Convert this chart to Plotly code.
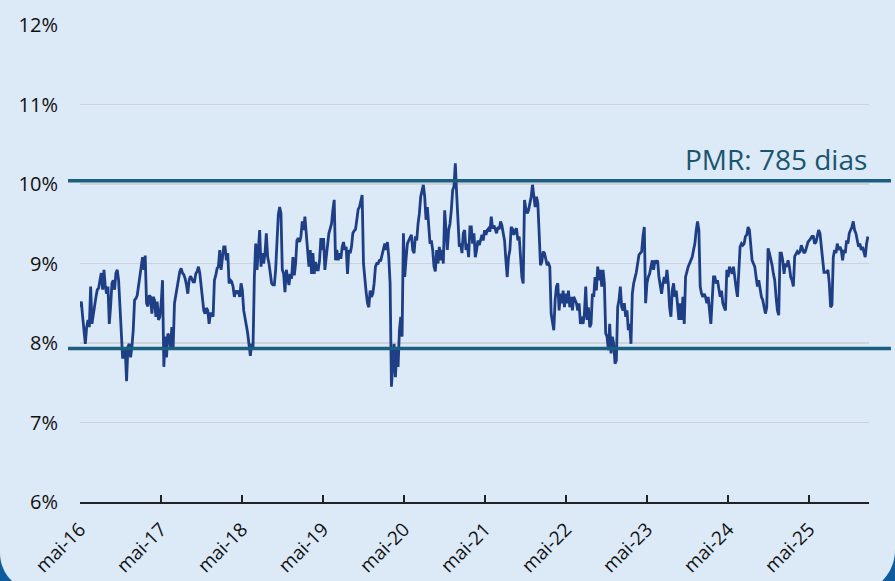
import math
import pandas as pd
import plotly.graph_objects as go

# ---------------- data ----------------
start_date = "2016-05-01"
step = "6D"

seg_2016_2017 = [
    8.45, 8.52, 8.33, 8.16, 7.99, 8.20, 8.29, 8.20, 8.71, 8.24, 8.37, 8.46, 8.58, 8.67, 8.69, 8.79,
    8.88, 8.67, 8.92, 8.71, 8.62, 8.71, 8.24, 8.46, 8.75, 8.79, 8.67, 8.88, 8.92, 8.79, 8.46, 8.16,
    7.82, 7.82, 7.91, 7.52, 7.95, 7.99, 7.82, 7.95, 8.16, 8.54, 8.56, 8.60, 8.71, 8.79, 8.96, 9.08,
    8.92, 9.10, 8.50, 8.46, 8.60, 8.58, 8.37, 8.58, 8.54, 8.33, 8.52, 8.29, 8.33, 8.50, 8.79, 7.70,
    8.08, 7.82, 8.12, 8.08, 7.95, 8.20, 7.95, 8.50, 8.60, 8.67, 8.81, 8.90, 8.94, 8.88, 8.86, 8.81,
    8.73, 8.62, 8.79, 8.84, 8.81, 8.77, 8.77, 8.87, 8.90, 8.96, 8.88, 8.69, 8.58, 8.41, 8.37, 8.44,
]
seg_2018_2019 = [
    8.41, 8.24, 8.37, 8.37, 8.33, 8.79, 8.85, 8.94, 8.96, 9.17, 8.92, 9.08, 9.21, 9.21, 9.04, 9.13,
    8.75, 8.79, 8.77, 8.71, 8.58, 8.66, 8.62, 8.66, 8.58, 8.75, 8.66, 8.41, 8.33, 8.22, 8.12, 7.95,
    7.84, 7.99, 7.95, 8.83, 9.25, 8.92, 9.17, 9.42, 8.96, 9.13, 9.00, 9.13, 9.38, 9.08, 9.00, 8.87,
    8.75, 8.73, 8.73, 8.92, 9.38, 9.61, 9.71, 9.63, 8.92, 8.87, 8.64, 8.92, 8.83, 8.73, 8.87, 8.81,
    9.08, 8.85, 9.00, 9.29, 9.32, 9.27, 9.34, 9.53, 9.42, 9.59, 9.38, 9.17, 8.96, 9.17, 8.87, 9.13,
    8.87, 9.02, 8.92, 8.92, 9.04, 9.32, 9.17, 9.32, 8.92, 9.08, 9.25, 9.38, 9.44, 9.50, 9.67, 9.80,
    9.04, 9.17, 9.04,
]
seg_2019_2021 = [
    9.13, 9.06, 9.21, 9.27, 9.17, 9.21, 8.87, 9.17, 9.13, 9.21, 9.38, 9.41, 9.43, 9.55, 9.68, 9.71,
    9.80, 9.86, 9.00, 8.77, 8.64, 8.50, 8.45, 8.66, 8.58, 8.62, 8.75, 8.96, 9.00, 9.00, 9.04, 9.04,
    9.11, 9.21, 9.25, 9.17, 9.27, 9.08, 8.75, 7.45, 7.74, 7.99, 7.57, 7.91, 7.70, 8.16, 8.33, 8.08,
    9.38, 8.83, 9.06, 9.25, 9.29, 9.32, 9.36, 9.17, 9.13, 9.34, 9.29, 9.50, 9.63, 9.84, 9.92, 9.99,
    9.84, 9.55, 9.71, 9.50, 9.25, 9.29, 9.17, 8.96, 8.90, 9.17, 9.00, 9.21, 9.04, 9.17, 9.00, 9.67,
    9.38, 9.17, 9.42, 9.50, 9.67, 9.92, 9.97, 10.26, 9.88, 9.42, 9.21, 9.25, 9.13, 9.38, 9.42, 9.17,
    9.25, 9.08, 9.46,
]
seg_2021_2022 = [
    9.46, 9.25, 9.38, 9.08, 9.17, 9.29, 9.23, 9.32, 9.36, 9.29, 9.42, 9.36, 9.42, 9.44, 9.40, 9.59,
    9.44, 9.48, 9.44, 9.38, 9.46, 9.43, 9.53, 9.48, 9.38, 9.29, 9.04, 8.83, 9.08, 9.17, 9.46, 9.43,
    9.36, 9.42, 9.44, 9.29, 9.34, 9.04, 8.83, 8.75, 9.80, 9.69, 9.63, 9.67, 9.74, 9.84, 9.99, 9.80,
    9.71, 9.84, 9.76, 9.38, 8.98, 9.02, 9.15, 9.13, 9.04, 8.98, 9.00, 8.96, 8.37, 8.24, 8.16, 8.54,
    8.71, 8.75, 8.41, 8.62, 8.50, 8.66, 8.45, 8.62, 8.50, 8.66, 8.45, 8.58, 8.41, 8.58, 8.54, 8.50,
    8.41, 8.50, 8.24, 8.33, 8.24, 8.37, 8.71, 8.29, 8.45, 8.20, 8.24, 8.62, 8.58, 8.83, 8.66, 8.96,
    8.79, 8.92, 8.71,
]
seg_2022_2024 = [
    8.92, 8.75, 8.12, 8.08, 7.91, 8.24, 7.87, 8.08, 7.99, 7.74, 7.78, 8.45, 8.54, 8.71, 8.45, 8.41,
    8.50, 8.33, 8.41, 8.16, 8.24, 7.99, 8.62, 8.75, 8.81, 8.89, 9.00, 9.11, 9.13, 9.15, 9.34, 9.46,
    8.50, 8.75, 8.83, 8.87, 8.96, 9.04, 8.92, 9.04, 9.00, 9.04, 8.83, 8.71, 8.62, 8.75, 8.83, 8.75,
    8.92, 8.75, 8.45, 8.33, 8.66, 8.75, 8.58, 8.66, 8.50, 8.29, 8.50, 8.29, 8.58, 8.24, 8.83, 8.92,
    8.96, 9.00, 9.04, 9.08, 9.17, 9.25, 9.42, 9.53, 9.42, 8.71, 8.62, 8.58, 8.62, 8.58, 8.50, 8.58,
    8.41, 8.24, 8.54, 8.83, 8.83, 8.75, 8.79, 8.66, 8.58, 8.66, 8.50, 8.45, 8.41, 8.92, 8.83, 8.96,
    8.92, 8.87, 8.96,
]
seg_2024_2026 = [
    8.79, 8.69, 8.58, 8.83, 9.21, 9.25, 9.23, 9.25, 9.34, 9.36, 9.46, 9.42, 9.17, 9.04, 9.00, 8.96,
    8.83, 8.71, 8.79, 8.66, 8.58, 8.54, 8.45, 8.37, 8.45, 9.19, 9.13, 9.06, 8.98, 8.87, 8.79, 8.58,
    8.41, 8.35, 9.13, 9.13, 9.04, 8.87, 9.00, 8.96, 9.04, 8.96, 8.83, 8.79, 8.71, 9.09, 9.12, 9.15,
    9.13, 9.15, 9.23, 9.17, 9.13, 9.15, 9.23, 9.27, 9.29, 9.32, 9.34, 9.34, 9.25, 9.27, 9.36, 9.42,
    9.38, 9.21, 9.00, 8.89, 8.89, 8.89, 8.92, 8.75, 8.45, 8.48, 9.08, 9.17, 9.13, 9.25, 9.17, 9.21,
    9.17, 9.04, 9.17, 9.13, 9.29, 9.25, 9.38, 9.42, 9.46, 9.53, 9.42, 9.38, 9.29, 9.21, 9.25, 9.17,
    9.21, 9.13, 9.08, 9.25, 9.34,
]

yield_values = (seg_2016_2017 + seg_2018_2019 + seg_2019_2021
                + seg_2021_2022 + seg_2022_2024 + seg_2024_2026)
dates = pd.date_range(start_date, periods=len(yield_values), freq=step)

upper_band = 10.04
lower_band = 7.93
band_label = "PMR: 785 dias"

tick_dates = ["2016-05-01", "2017-05-01", "2018-05-01", "2019-05-01", "2020-05-01",
              "2021-05-01", "2022-05-01", "2023-05-01", "2024-05-01", "2025-05-01"]
tick_labels = ["mai-16", "mai-17", "mai-18", "mai-19", "mai-20",
               "mai-21", "mai-22", "mai-23", "mai-24", "mai-25"]
y_ticks = [6, 7, 8, 9, 10, 11, 12]
y_labels = ["6%", "7%", "8%", "9%", "10%", "11%", "12%"]

# ---------------- figure ----------------
W, H = 895, 581
ML, MR, MT, MB = 80, 26, 25, 79
PW, PH = W - ML - MR, H - MT - MB

BG = "#dce9f6"
BAND = "#1b5e80"
LINE = "#1e3f85"
CORNER = "#0e5c9e"

fig = go.Figure()
fig.add_trace(go.Scatter(x=dates, y=yield_values, mode="lines",
                         line=dict(color=LINE, width=2.8), hoverinfo="skip",
                         showlegend=False))

shapes = []
for val in (upper_band, lower_band):
    shapes.append(dict(type="line", xref="paper", yref="y",
                       x0=(68 - ML) / PW, x1=(891 - ML) / PW, y0=val, y1=val,
                       line=dict(color=BAND, width=3.5), layer="above"))


def px2paper(px, py):
    return (px - ML) / PW, (H - MB - py) / PH


def corner_path(cx, cy, r, a0, a1, extra):
    pts = []
    n = 24
    for i in range(n + 1):
        a = a0 + (a1 - a0) * i / n
        pts.append(px2paper(cx + r * math.cos(a), cy + r * math.sin(a)))
    for p in extra:
        pts.append(px2paper(*p))
    d = "M " + " L ".join(f"{x:.5f},{y:.5f}" for x, y in pts) + " Z"
    return d


# bottom-left rounded corner (outside area in dark blue)
r1 = 38.7
d1 = corner_path(r1, 553, r1, math.pi, math.pi / 2 + 0.29, [(0, 581)])
# bottom-right rounded corner
r2 = 43.5
d2 = corner_path(895 - r2, 550, r2, 0, math.pi / 2 - 0.32, [(895, 581)])
for d in (d1, d2):
    shapes.append(dict(type="path", xref="paper", yref="paper", path=d,
                       fillcolor=CORNER, line=dict(width=0), layer="above"))

fig.update_layout(
    width=W, height=H,
    margin=dict(l=ML, r=MR, t=MT, b=MB, pad=0, autoexpand=False),
    paper_bgcolor=BG, plot_bgcolor=BG,
    font=dict(family="Open Sans, sans-serif", color="#111111"),
    shapes=shapes,
    annotations=[dict(text=band_label, xref="paper", yref="y", x=1.0, y=10.31,
                      xanchor="right", yanchor="middle", showarrow=False,
                      font=dict(size=28, color="#1a5570", family="Open Sans, sans-serif"))],
    xaxis=dict(type="date", range=["2016-05-01", "2026-01-26"],
               tickvals=tick_dates, ticktext=tick_labels, tickangle=-45,
               tickfont=dict(size=19, color="#111111"),
               showgrid=False, zeroline=False, automargin=False,
               showline=True, linecolor="#222222", linewidth=1.8,
               ticks="inside", ticklen=7, tickwidth=1.8, tickcolor="#222222",
               ticklabelstandoff=7),
    yaxis=dict(range=[6, 12], tickvals=y_ticks, ticktext=y_labels,
               tickfont=dict(size=20, color="#111111"), automargin=False,
               showgrid=True, gridcolor="#cfd3d9", gridwidth=1.6,
               zeroline=False, showline=False, ticks="",
               ticklabelstandoff=21),
)

fig.write_html("out.html",
               config={"displayModeBar": False, "staticPlot": True},
               post_script="document.body.style.margin='0';"
                           "document.body.style.overflow='hidden';")
